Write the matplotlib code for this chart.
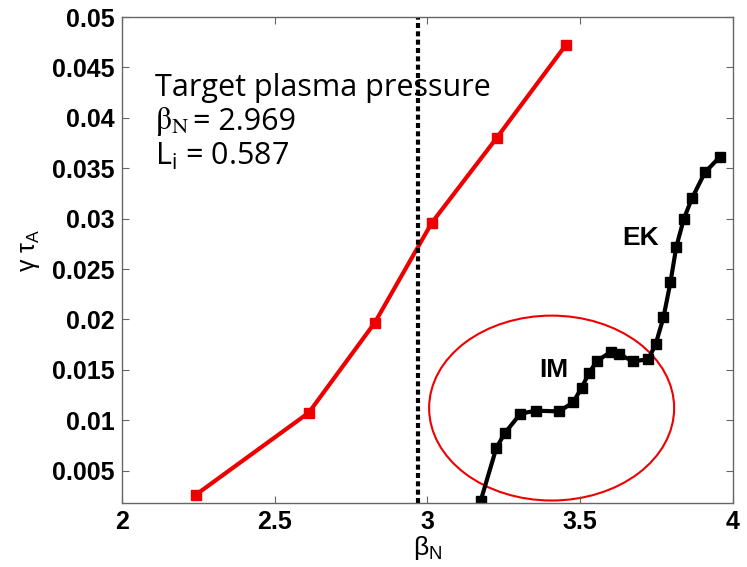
import matplotlib
matplotlib.use("Agg")
import matplotlib.pyplot as plt
from matplotlib.patches import Ellipse

# Data
red_beta = [2.242, 2.612, 2.828, 3.015, 3.227, 3.453]
red_gamma = [0.0026, 0.01075, 0.01967, 0.0296, 0.0380, 0.0472]

black_beta = [3.175, 3.226, 3.254, 3.305, 3.355, 3.432, 3.477, 3.505, 3.529, 3.556,
              3.600, 3.628, 3.674, 3.724, 3.748, 3.773, 3.796, 3.815, 3.840, 3.866,
              3.909, 3.957]
black_gamma = [0.00203, 0.00725, 0.00874, 0.01065, 0.01095, 0.01088, 0.01177, 0.0132,
               0.01468, 0.0159, 0.01676, 0.01656, 0.01583, 0.01607, 0.01759, 0.0202,
               0.0237, 0.0272, 0.0300, 0.0320, 0.0346, 0.0361]

target_beta = 2.969
xticks = [2, 2.5, 3, 3.5, 4]
xtick_labels = ["2", "2.5", "3", "3.5", "4"]
yticks = [0.005, 0.01, 0.015, 0.02, 0.025, 0.03, 0.035, 0.04, 0.045, 0.05]
ytick_labels = ["0.005", "0.01", "0.015", "0.02", "0.025", "0.03", "0.035", "0.04", "0.045", "0.05"]

# ellipse (center, width, height) in data units
ell_center = (3.407, 0.01121)
ell_w, ell_h = 0.802, 0.01834

RED = '#ee0000'

plt.rcParams['font.family'] = ['Liberation Sans', 'DejaVu Sans']
plt.rcParams['mathtext.fontset'] = 'custom'
plt.rcParams['mathtext.rm'] = 'Liberation Sans'
plt.rcParams['mathtext.it'] = 'Liberation Sans'

fig = plt.figure(figsize=(7.47, 5.67), dpi=100)
ax = fig.add_axes([0.163, 0.113, 0.818, 0.857])

ax.plot(red_beta, red_gamma, color=RED, lw=3, marker='s', ms=7, mfc=RED, mec=RED)
ax.plot(black_beta, black_gamma, color='black', lw=3, marker='s', ms=7, mfc='black', mec='black')
ax.axvline(target_beta, color='black', lw=3, linestyle=(0, (1.2, 0.8)))

ax.add_patch(Ellipse(ell_center, ell_w, ell_h, fill=False, edgecolor=RED, lw=1.5))

ax.set_xlim(2, 4)
ax.set_ylim(0.0018, 0.05)
ax.set_xticks(xticks)
ax.set_xticklabels(xtick_labels)
ax.set_yticks(yticks)
ax.set_yticklabels(ytick_labels)
for lab in ax.get_xticklabels() + ax.get_yticklabels():
    lab.set_fontweight('bold')
    lab.set_fontsize(18)
ax.tick_params(direction='in', length=5, color='#666666', top=True, right=True, pad=5)
for s in ax.spines.values():
    s.set_color('#666666')
    s.set_linewidth(1)

ax.set_xlabel(r'$\mathregular{β_N}$', fontsize=19, labelpad=0)
ax.set_ylabel(r'$\mathregular{γ\ τ_A}$', fontsize=18)
ax.yaxis.set_label_coords(-0.13, 0.52)

tfont = 'Open Sans'
ax.text(2.11, 0.0430, 'Target plasma pressure', fontsize=22, family=tfont, va='center', ha='left')
ax.text(2.11, 0.0396, r'$\mathrm{β}_{\mathrm{N}}$', fontsize=23, va='center', ha='left',
        math_fontfamily='stix')
ax.text(2.232, 0.0396, '= 2.969', fontsize=22, family=tfont, va='center', ha='left')
ax.text(2.11, 0.0362, r'L$_\mathregular{i}$ = 0.587', fontsize=22, family=tfont, va='center', ha='left')

ax.text(3.699, 0.0281, 'EK', fontsize=19, fontweight='bold', ha='center', va='center')
ax.text(3.414, 0.0150, 'IM', fontsize=19, fontweight='bold', ha='center', va='center')

fig.savefig('out.png', dpi=100)
